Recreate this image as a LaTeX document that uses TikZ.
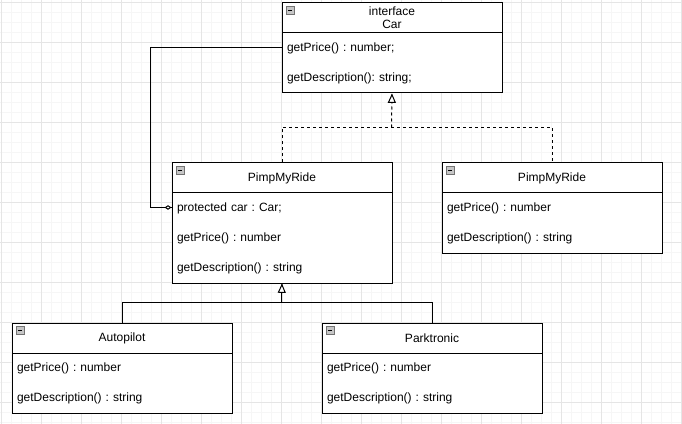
\documentclass[tikz,border=0pt]{standalone}
\usepackage{fontspec}
\setmainfont{Liberation Sans}
\frenchspacing
\usetikzlibrary{arrows.meta,decorations.markings}
\tikzstyle {class head} = [rectangle, draw, fill=white, line width=0.75pt, minimum width=165pt, minimum height=22.5pt, inner ysep=1pt, align=center, anchor=north west, font=\fontsize{9pt}{9.75pt}\selectfont]
\tikzstyle {class body} = [rectangle, draw, fill=white, line width=0.75pt, minimum width=165pt, inner xsep=3.75pt, text width=157.5pt, align=left, anchor=north west, font=\fontsize{9pt}{22.5pt}\selectfont]
\tikzstyle {icon} = [draw=gray!90!black, fill=gray!45, line width=0.6pt]
\tikzset{line/.style = {line width=0.75pt}}
\tikzset{dash line/.style = {line width=0.75pt, dash pattern=on 2.25pt off 2.25pt}}
\tikzset{realize/.style = {dash line, decoration={markings,mark=at position 1 with %
            {\arrow[solid]{Triangle[fill=white,length=7pt,width=6pt]}}},postaction={decorate}}}
\tikzset{generalize/.style = {line, decoration={markings,mark=at position 1 with %
            {\arrow{Triangle[fill=white,length=7pt,width=6pt]}}},postaction={decorate}}}
\tikzset{aggregate/.style = {line, decoration={markings,mark=at position 1 with %
            {\arrow{Diamond[fill=white,length=5.25pt,width=3.4pt]}}},postaction={decorate}}}
\begin{document}
\begin{tikzpicture}[x=0.75pt, y=-0.75pt]
            \useasboundingbox (0,0) rectangle (682,424);
            % grid
            \foreach \x in {1.5,11.5,...,681.5} \draw[gray!7, line width=0.75pt] (\x,0) -- (\x,424);
            \foreach \y in {2.5,12.5,...,422.5} \draw[gray!7, line width=0.75pt] (0,\y) -- (682,\y);
            \foreach \x in {1.5,41.5,...,681.5} \draw[gray!20, line width=0.75pt] (\x,0) -- (\x,424);
            \foreach \y in {2.5,42.5,...,422.5} \draw[gray!20, line width=0.75pt] (0,\y) -- (682,\y);
            % classes
            \node[class head] (car) at (281.5, 2.5) {interface\\Car};
            \node[class body, minimum height=45pt] (carf) at (281.5, 32.5) {getPrice() : number;\\getDescription(): string;};
            \node[class head] (pmr) at (171.5, 162.5) {PimpMyRide};
            \node[class body, minimum height=67.5pt] (pmrf) at (171.5, 192.5) {protected car : Car;\\getPrice() : number\\getDescription() : string};
            \node[class head] (deco) at (441.5, 162.5) {PimpMyRide};
            \node[class body, minimum height=45pt] (decof) at (441.5, 192.5) {getPrice() : number\\getDescription() : string};
            \node[class head] (auto) at (11.5, 322.5) {Autopilot};
            \node[class body, minimum height=45pt] (autof) at (11.5, 352.5) {getPrice() : number\\getDescription() : string};
            \node[class head] (park) at (321.5, 322.5) {Parktronic};
            \node[class body, minimum height=45pt] (parkf) at (321.5, 352.5) {getPrice() : number\\getDescription() : string};
            \foreach \n in {car,pmr,deco,auto,park} {
                \draw[icon] ([shift={(4.5,4)}]\n.north west) rectangle +(8,8);
                \draw[line width=0.6pt] ([shift={(6.5,8)}]\n.north west) -- +(4,0);
            }
            % connectors
            \coordinate (j1) at (391.5, 127.5);
            \coordinate (j2) at (281.5, 302.5);
            \draw[dash line] (pmr.north) |- (j1) -| (deco.north);
            \draw[realize] (j1) -- (carf.south);
            \draw[line] (auto.north) |- (j2) -| (park.north);
            \draw[generalize] (j2) -- (pmrf.south);
            \draw[aggregate] ([yshift=-11.25pt]carf.north west) -- ++(-131.5,0) |- ([yshift=-11.25pt]pmrf.north west);
        \end{tikzpicture}
\end{document}
